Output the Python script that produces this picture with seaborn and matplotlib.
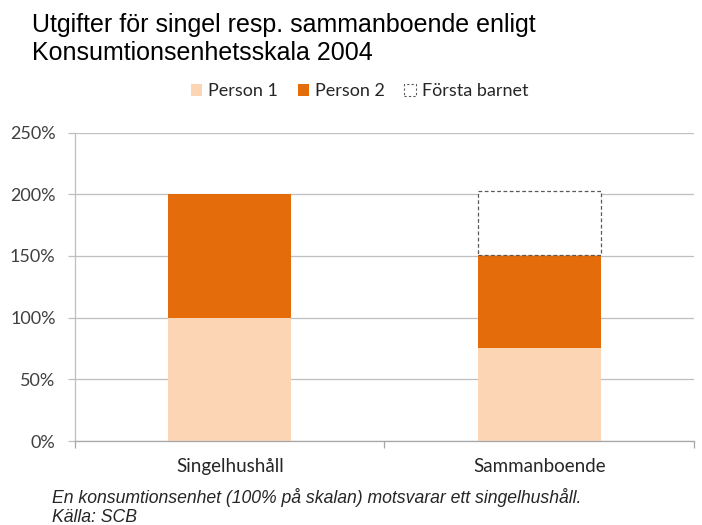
import numpy as np
import pandas as pd
import seaborn as sns
import matplotlib.pyplot as plt

categories = ["Singelhushåll", "Sammanboende"]
person1 = [100, 75.5]
person2 = [100, 75.5]
forsta_barnet = [np.nan, 52]
series_names = ["Person 1", "Person 2", "Första barnet"]

data = pd.DataFrame({
    "kategori": categories,
    "p1": person1,
    "p2": person2,
    "barn": forsta_barnet,
})
data["bas2"] = data["p1"]
data["bas3"] = data["p1"] + data["p2"]

sns.set_style("white")
plt.rcParams["font.family"] = ["Lato", "DejaVu Sans"]

fig = plt.figure(figsize=(7.02, 5.25), dpi=100)
ax = fig.add_axes([0.1068, 0.16, 0.8818, 0.5876])

bredd = 0.397
sns.barplot(data=data, x="kategori", y="p1", order=categories, color="#FCD5B5",
            width=bredd, saturation=1, linewidth=0, ax=ax, zorder=2)
sns.barplot(data=data, x="kategori", y="p2", order=categories, color="#E46C0A",
            width=bredd, saturation=1, linewidth=0, bottom=data["bas2"].values,
            ax=ax, zorder=2)
barn = data.dropna(subset=["barn"])
ax.bar([categories.index(k) for k in barn["kategori"]], barn["barn"], width=bredd,
       bottom=barn["bas3"], facecolor="white", edgecolor="#595959",
       linestyle=(0, (3, 2)), linewidth=0.9, zorder=3)

ax.set_ylim(0, 250)
ax.set_xlim(-0.5, 1.5)
ax.set_yticks(range(0, 251, 50))
ax.set_yticklabels([f"{v}%" for v in range(0, 251, 50)], fontsize=13, color="#404040")
ax.tick_params(axis="x", labelsize=13.5, labelcolor="#262626", length=0, pad=12)
ax.tick_params(axis="y", length=5, width=0.9, color="#BFBFBF", direction="out", pad=9, left=True)
ax.set_xticks([-0.5, 0.5, 1.5], minor=True)
ax.tick_params(axis="x", which="minor", length=5, color="#A6A6A6", width=0.9, bottom=True)
ax.grid(axis="y", color="#BFBFBF", linewidth=0.9, zorder=0)
ax.set_axisbelow(True)
for s in ["right", "top"]:
    ax.spines[s].set_visible(False)
ax.spines["left"].set_color("#BFBFBF")
ax.spines["left"].set_linewidth(0.9)
ax.spines["bottom"].set_color("#A6A6A6")
ax.spines["bottom"].set_linewidth(0.9)
ax.set_xlabel("")
ax.set_ylabel("")

handles = [
    plt.Rectangle((0, 0), 1, 1, facecolor="#FCD5B5", edgecolor="none"),
    plt.Rectangle((0, 0), 1, 1, facecolor="#E46C0A", edgecolor="none"),
    plt.Rectangle((0, 0), 1, 1, facecolor="white", edgecolor="#595959",
                  linestyle=(0, (2, 2)), linewidth=0.8),
]
fig.legend(handles, series_names, loc="center", bbox_to_anchor=(0.512, 0.826),
           ncol=3, frameon=False, fontsize=13, handlelength=0.65, handleheight=0.65,
           columnspacing=1.1, handletextpad=0.3, labelcolor="#262626")

fig.text(0.045, 0.975, "Utgifter för singel resp. sammanboende enligt\nKonsumtionsenhetsskala 2004",
         fontsize=18, family="Liberation Sans", va="top", ha="left",
         linespacing=1.2, color="black")
fig.text(0.074, 0.034, "En konsumtionsenhet (100% på skalan) motsvarar ett singelhushåll.\nKälla: SCB",
         fontsize=12.7, family="Liberation Sans", style="italic", va="center", ha="left",
         linespacing=1.15, color="#262626")

fig.savefig("out.png", dpi=100)
